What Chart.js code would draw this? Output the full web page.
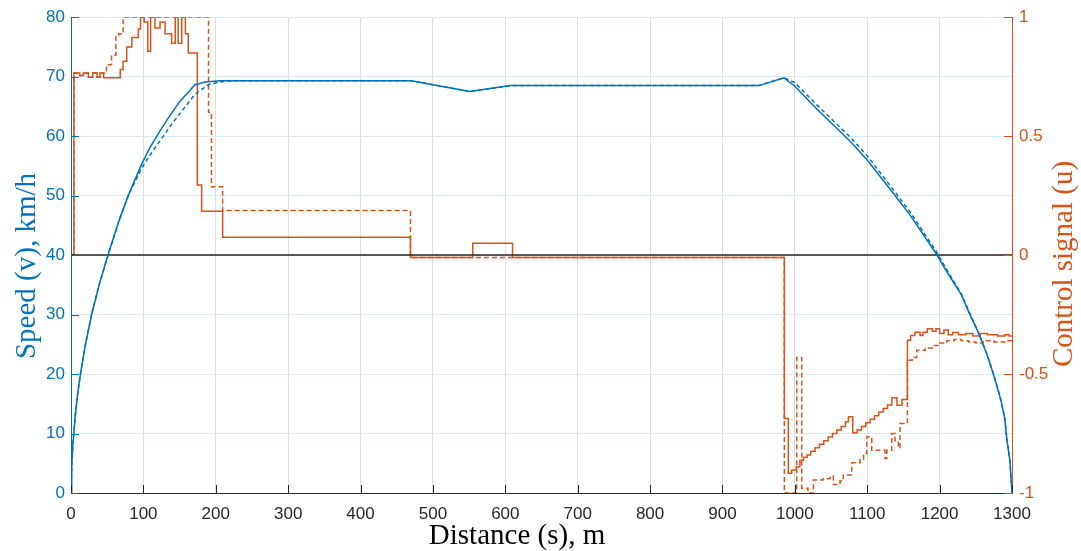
<!DOCTYPE html>
<html>
<head>
<meta charset="utf-8">
<script src="https://cdn.jsdelivr.net/npm/chart.js@4"></script>
<style>
    html, body { margin: 0; padding: 0; background: #fff; }
</style>
</head>
<body>
<canvas id="chart" width="1081" height="551"></canvas>
<script>
// speed, km/h (left axis)
const speedSolidDist = [0, 1, 2.5, 5.5, 9, 13.4, 20, 28.6, 40, 51.6, 65, 79, 97.6, 110, 123, 132, 150, 171, 185, 206, 470, 551, 607, 950, 985, 1000, 1030, 1076, 1100, 1136, 1160, 1196, 1210, 1220, 1230, 1240, 1250, 1256, 1265, 1274, 1280, 1285, 1290, 1293, 1297, 1300]
const speedSolid = [0, 4.5, 8, 12.5, 16.5, 20.3, 25, 30.1, 35.5, 40.2, 45.3, 50, 55.3, 58.3, 60.9, 62.6, 65.8, 68.6, 69.1, 69.3, 69.3, 67.5, 68.5, 68.5, 69.8, 68.4, 64.6, 59.2, 56, 50.4, 46.6, 40.1, 37.2, 35.3, 33.3, 30.5, 27.9, 26.2, 23.4, 20.1, 17.6, 15.4, 12.5, 8.9, 5.6, 0]

const speedDashedDist = [0, 1, 2.5, 5.5, 9, 13.4, 20, 28.6, 40, 51.6, 65, 79, 97.6, 110, 123, 139, 155, 171, 190, 210, 230, 470, 551, 607, 950, 985, 1000, 1030, 1076, 1100, 1136, 1160, 1196, 1210, 1220, 1230, 1240, 1250, 1256, 1265, 1274, 1280, 1285, 1290, 1293, 1297, 1300]
const speedDashed = [0, 4.5, 8, 12.5, 16.5, 20.3, 25, 30.1, 35.5, 40.2, 45.3, 50, 54.6, 57, 59.2, 62, 64.5, 67, 68.7, 69.2, 69.3, 69.3, 67.5, 68.5, 68.5, 69.8, 69, 65.3, 59.9, 56.7, 51, 47.1, 40.5, 37.5, 35.5, 33.5, 30.7, 28, 26.3, 23.5, 20.2, 17.7, 15.5, 12.6, 9, 5.7, 0]

// control signal u (right axis), value holds from each distance on
const ctrlSolidDist = [0, 4, 12, 17, 24, 30, 36, 40, 45, 68, 72, 77, 84, 93, 96, 101, 106, 110, 116, 123, 130, 139, 144, 148, 153, 158, 162, 174.5, 180.5, 209.5, 469, 555, 610, 985.5, 991, 995.6, 1002, 1007, 1012, 1017, 1022, 1028, 1034, 1040, 1046, 1052, 1058, 1064, 1070, 1074, 1080, 1086, 1092, 1098, 1104, 1110, 1116, 1122, 1128, 1134, 1141, 1148, 1155.5, 1160, 1166, 1173, 1177, 1183, 1190, 1195, 1200, 1206, 1212, 1218, 1226, 1236, 1246, 1256, 1266, 1280, 1290, 1296, 1300]
const ctrlSolid = [0, 0.765, 0.755, 0.765, 0.748, 0.765, 0.748, 0.765, 0.745, 0.78, 0.815, 0.875, 0.915, 0.95, 1, 0.98, 0.857, 1, 0.955, 0.98, 0.93, 0.89, 1, 0.89, 1, 0.93, 0.85, 0.295, 0.184, 0.075, -0.01, 0.05, -0.01, -0.687, -0.917, -0.903, -0.89, -0.862, -0.85, -0.84, -0.825, -0.81, -0.795, -0.78, -0.765, -0.75, -0.735, -0.72, -0.7, -0.68, -0.747, -0.735, -0.72, -0.705, -0.69, -0.675, -0.66, -0.645, -0.63, -0.6, -0.631, -0.607, -0.358, -0.338, -0.324, -0.338, -0.324, -0.31, -0.32, -0.31, -0.33, -0.315, -0.335, -0.325, -0.335, -0.33, -0.34, -0.33, -0.335, -0.34, -0.335, -0.34, -0.34]

const ctrlDashedDist = [0, 4, 12, 17, 24, 30, 36, 40, 49, 56, 62, 66, 72, 190, 194, 209.5, 469, 985.5, 1002.6, 1009.5, 1018, 1025.6, 1039, 1048.6, 1053.2, 1062.4, 1067, 1078.6, 1090, 1095, 1099.3, 1106.2, 1117.7, 1124.6, 1127, 1133.8, 1138.4, 1143, 1145.3, 1155.5, 1162, 1168.4, 1180, 1190, 1200, 1210, 1220, 1230, 1240, 1250, 1260, 1275, 1290, 1300]
const ctrlDashed = [0, 0.765, 0.755, 0.765, 0.748, 0.765, 0.748, 0.765, 0.8, 0.84, 0.92, 0.93, 1, 0.6, 0.287, 0.187, -0.01, -1, -0.43, -0.98, -1, -0.945, -0.94, -0.93, -0.964, -0.95, -0.924, -0.873, -0.86, -0.834, -0.764, -0.82, -0.82, -0.855, -0.82, -0.75, -0.78, -0.81, -0.708, -0.442, -0.43, -0.4, -0.39, -0.38, -0.37, -0.36, -0.355, -0.36, -0.365, -0.37, -0.36, -0.365, -0.36, -0.36]

const zeroDist = [0, 1300]
const zeroLine = [0, 0]

const BLUE = "#0072BD"
const ORANGE = "#D95319"
const DARK = "#262626"

const toPoints = (xs, ys) => xs.map((x, i) => ({ x: x, y: ys[i] }))
const plainLabel = (value) => String(value)

// inward ticks + axis titles, drawn like the matlab figure
const axisDecor = {
    id: "axisDecor",
    afterDraw(chart) {
        const ctx = chart.ctx
        const { left, right, bottom } = chart.chartArea
        const { x, y, y1 } = chart.scales
        ctx.save()
        ctx.lineWidth = 1

        ctx.strokeStyle = BLUE
        y.ticks.forEach((t) => {
            const py = Math.round(y.getPixelForValue(t.value)) + 0.5
            ctx.beginPath(); ctx.moveTo(left, py); ctx.lineTo(left + 8, py); ctx.stroke()
        })
        ctx.strokeStyle = ORANGE
        y1.ticks.forEach((t) => {
            const py = Math.round(y1.getPixelForValue(t.value)) + 0.5
            ctx.beginPath(); ctx.moveTo(right, py); ctx.lineTo(right - 8, py); ctx.stroke()
        })
        ctx.strokeStyle = DARK
        x.ticks.forEach((t) => {
            const px = Math.round(x.getPixelForValue(t.value)) + 0.5
            ctx.beginPath(); ctx.moveTo(px, bottom); ctx.lineTo(px, bottom - 8); ctx.stroke()
        })

        ctx.font = "29px 'Liberation Serif'"
        ctx.textAlign = "center"
        ctx.textBaseline = "middle"

        ctx.fillStyle = BLUE
        ctx.save()
        ctx.translate(27, 266)
        ctx.rotate(-Math.PI / 2)
        ctx.fillText("Speed (v), km/h", 0, 0)
        ctx.restore()

        ctx.fillStyle = ORANGE
        ctx.save()
        ctx.translate(1064, 264)
        ctx.rotate(-Math.PI / 2)
        ctx.fillText("Control signal (u)", 0, 0)
        ctx.restore()

        ctx.fillStyle = "#000"
        ctx.fillText("Distance (s), m", 517, 536)
        ctx.restore()
    }
}

new Chart(document.getElementById("chart"), {
    type: "line",
    data: {
        datasets: [
            {
                data: toPoints(speedSolidDist, speedSolid),
                yAxisID: "y",
                borderColor: BLUE,
                borderWidth: 1.5
            },
            {
                data: toPoints(speedDashedDist, speedDashed),
                yAxisID: "y",
                borderColor: BLUE,
                borderWidth: 1.5,
                borderDash: [4, 3]
            },
            {
                data: toPoints(zeroDist, zeroLine),
                yAxisID: "y1",
                borderColor: DARK,
                borderWidth: 1.5
            },
            {
                data: toPoints(ctrlSolidDist, ctrlSolid),
                yAxisID: "y1",
                borderColor: ORANGE,
                borderWidth: 1.5,
                stepped: true
            },
            {
                data: toPoints(ctrlDashedDist, ctrlDashed),
                yAxisID: "y1",
                borderColor: ORANGE,
                borderWidth: 1.5,
                borderDash: [5, 3],
                stepped: true
            }
        ]
    },
    options: {
        responsive: false,
        animation: false,
        layout: { padding: { top: 16, left: 0, right: 0, bottom: 0 } },
        elements: { point: { radius: 0 }, line: { tension: 0 } },
        plugins: { legend: { display: false }, tooltip: { enabled: false } },
        scales: {
            x: {
                type: "linear",
                min: 0,
                max: 1300,
                afterFit: (scale) => { scale.height = 58 },
                ticks: { stepSize: 100, color: DARK, padding: 11, callback: plainLabel, font: { family: "Liberation Sans", size: 17 } },
                grid: { color: "#dedede", drawTicks: false },
                border: { color: DARK, width: 1 }
            },
            y: {
                position: "left",
                min: 0,
                max: 80,
                afterFit: (scale) => { scale.width = 71 },
                ticks: { stepSize: 10, color: BLUE, padding: 6, callback: plainLabel, font: { family: "Liberation Sans", size: 17 } },
                grid: { color: "#d9eaf5", drawTicks: false },
                border: { color: BLUE, width: 1 }
            },
            y1: {
                position: "right",
                min: -1,
                max: 1,
                afterFit: (scale) => { scale.width = 69 },
                ticks: { stepSize: 0.5, color: ORANGE, padding: 7, callback: plainLabel, font: { family: "Liberation Sans", size: 17 } },
                grid: { drawOnChartArea: false, drawTicks: false },
                border: { color: ORANGE, width: 1 }
            }
        }
    },
    plugins: [axisDecor]
})
</script>
</body>
</html>
